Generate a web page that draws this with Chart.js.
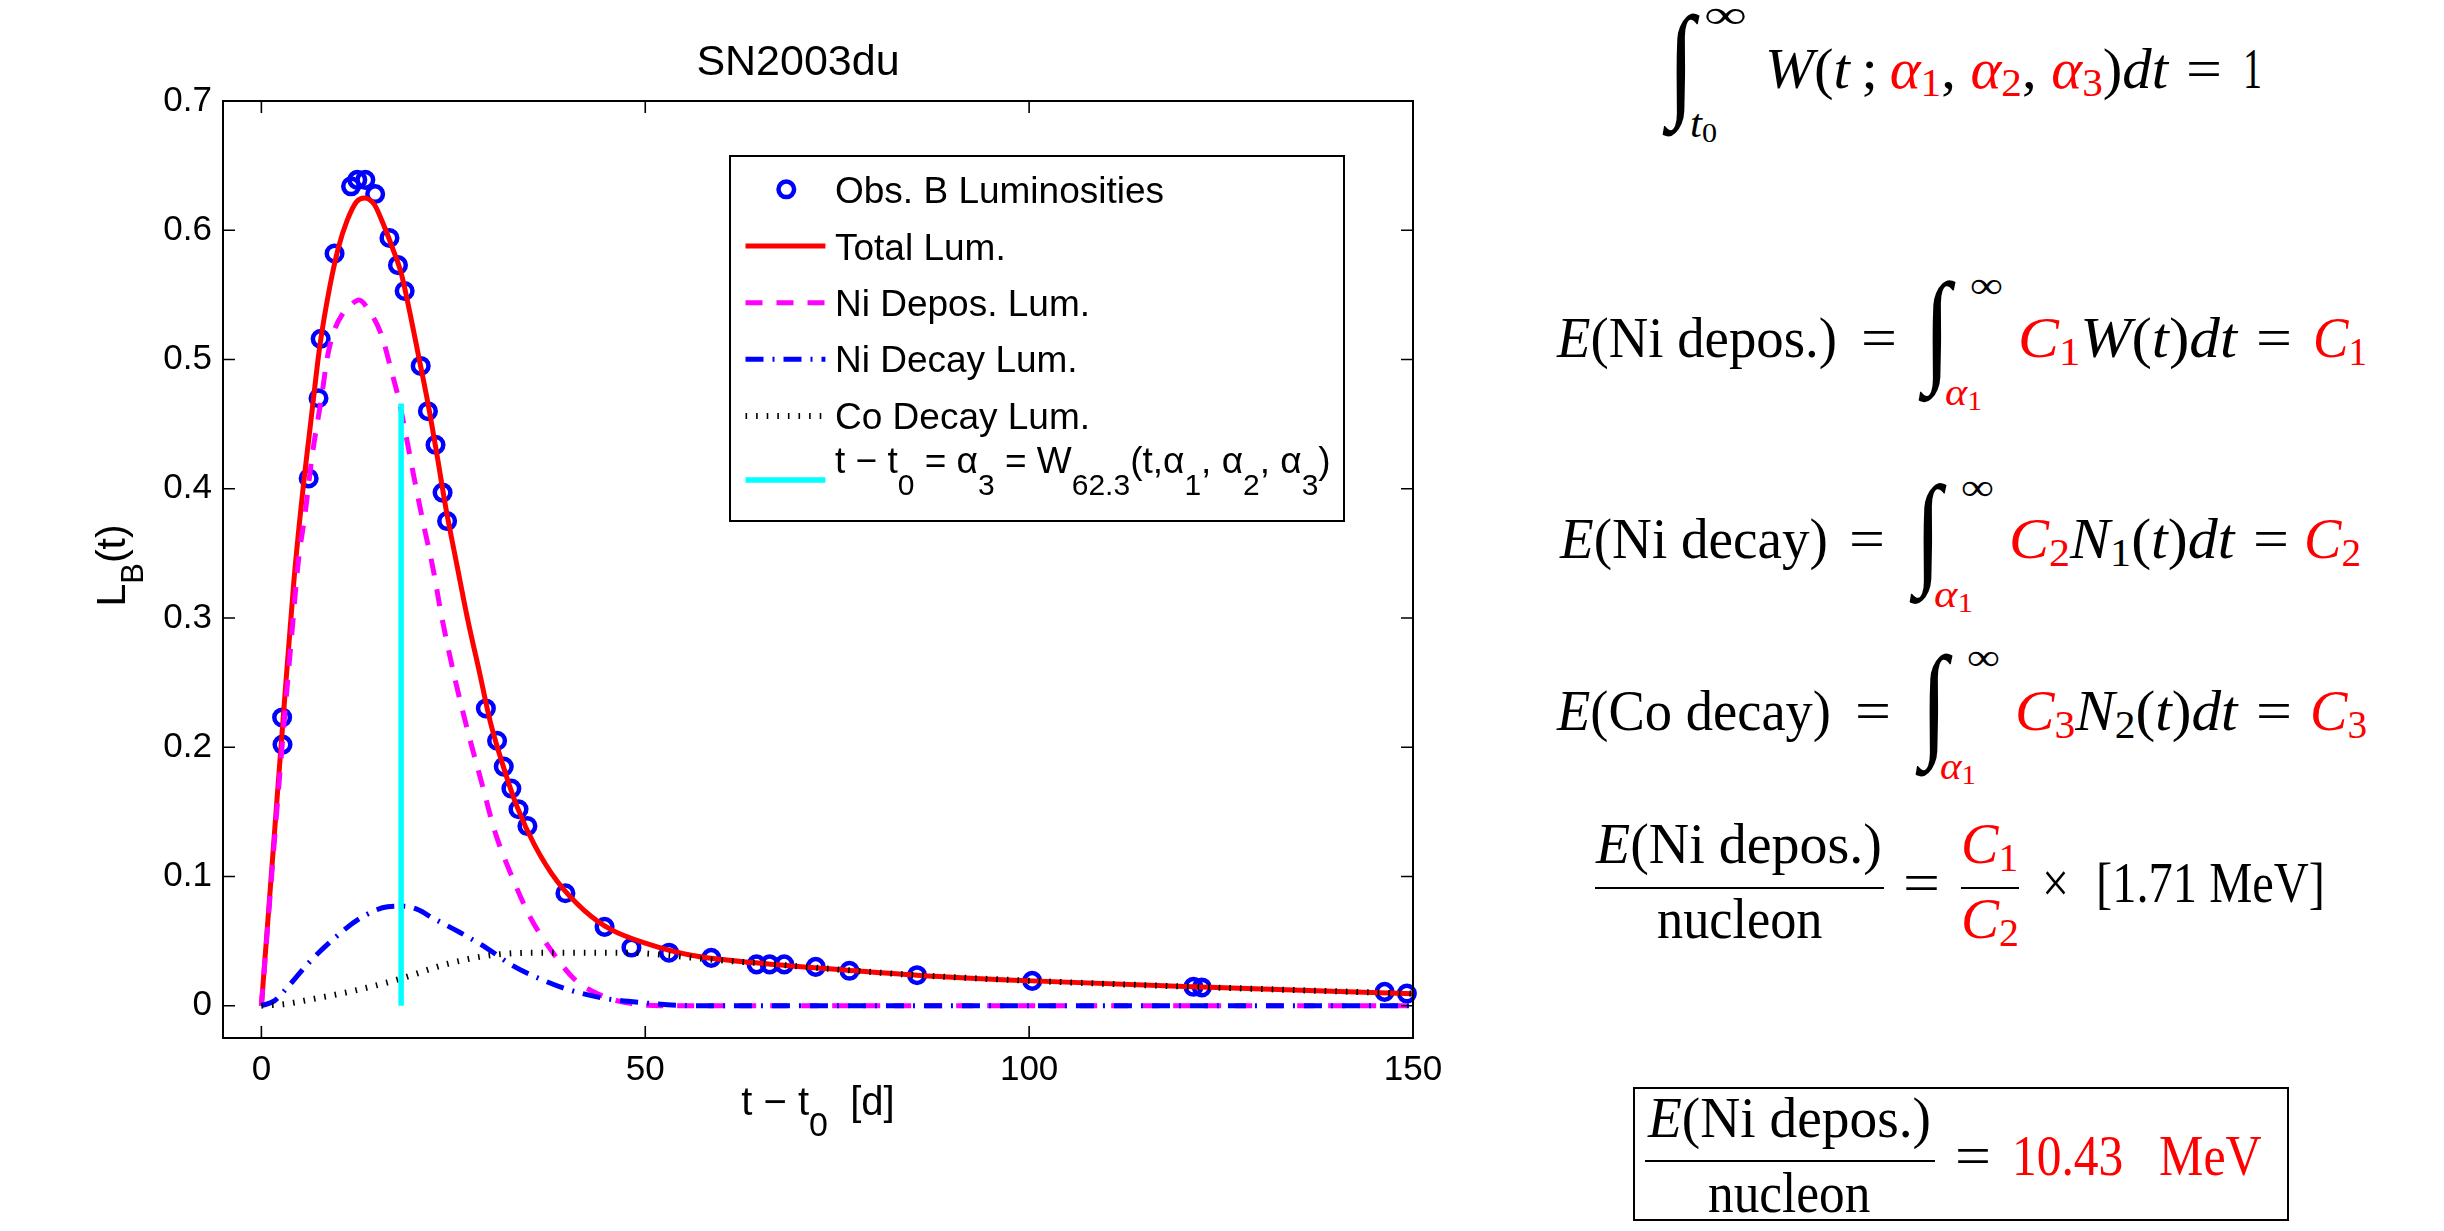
<!DOCTYPE html>
<html>
<head>
<meta charset="utf-8">
<script src="https://cdn.jsdelivr.net/npm/chart.js@4.4.0/dist/chart.umd.min.js"></script>
<style>
html, body { margin: 0; padding: 0; background: #fff; }
body { width: 2444px; height: 1231px; position: relative; overflow: hidden; }
#plot { position: absolute; left: 0; top: 0; width: 1500px; height: 1231px; }
.eq { position: absolute; left: 0; top: 0; white-space: nowrap; color: #000;
      font-family: "Liberation Serif", "Times New Roman", serif; transform-origin: 0 0; }
.eq i { font-style: italic; }
.r { color: #f00; }
.sb { position: relative; top: 0.2em; font-size: 0.7em; line-height: 0; }
.bar { position: absolute; background: #000; height: 2.5px; }
.box { position: absolute; border: 2px solid #000; box-sizing: border-box; }
</style>
</head>
<body>
<div id="plot"><canvas id="lum"></canvas></div>
<div id="eqs"></div>
<script>
// observed B luminosities (t - t0 in days, L_B)
const obsT = [2.7, 2.75, 6.16, 7.44, 7.72, 9.53, 11.68, 12.49, 13.54, 14.82, 16.68, 17.79, 18.66, 20.75,
              21.69, 22.68, 23.6, 24.19, 29.24, 30.7, 31.57, 32.56, 33.49, 34.65, 39.6, 44.7, 48.2, 53.1,
              58.6, 64.5, 66.2, 68.1, 72.2, 76.6, 85.4, 100.4, 121.4, 122.5, 146.3, 149.2];
const obsL = [0.223, 0.202, 0.408, 0.470, 0.516, 0.582, 0.634, 0.639, 0.639, 0.628, 0.594, 0.573, 0.553, 0.495,
              0.460, 0.434, 0.397, 0.375, 0.230, 0.205, 0.185, 0.168, 0.152, 0.139, 0.087, 0.061, 0.045, 0.041,
              0.037, 0.032, 0.032, 0.032, 0.030, 0.027, 0.0236, 0.0192, 0.0146, 0.0141, 0.0107, 0.0094];

// total luminosity
const totT = [0, 1, 2, 3, 4.24, 5.3, 6.56, 7.6, 8.9, 10.05, 11.2, 12.38, 13.43, 14.7, 15.86, 17.03, 18.2,
              19.35, 20.5, 21.7, 22.85, 24.0, 25.5, 26.9, 28.37, 29.8, 31.57, 33.3, 35.6, 38.55, 42.0, 45.5,
              50.2, 56.0, 64.7, 76.3, 85.4, 100.4, 121.4, 150];
const totL = [0, 0.078, 0.157, 0.235, 0.329, 0.393, 0.458, 0.51, 0.556, 0.587, 0.608, 0.622, 0.625, 0.62,
              0.605, 0.587, 0.567, 0.536, 0.502, 0.466, 0.427, 0.386, 0.34, 0.298, 0.259, 0.22, 0.184, 0.154,
              0.124, 0.096, 0.074, 0.059, 0.048, 0.039, 0.033, 0.0275, 0.0236, 0.0192, 0.0146, 0.0093];

// Ni deposition luminosity
const depT = [0, 1, 2, 3, 4, 4.8, 5.7, 6.6, 7.84, 8.6, 9.47, 10.64, 11.8, 12.7, 14.0, 15.58, 17.03, 17.9,
              18.78, 19.94, 21.1, 22.4, 23.42, 25.17, 26.9, 28.67, 30.4, 32.7, 35.06, 37.97, 40.87, 44.4,
              47.85, 52, 150];
const depL = [0, 0.075, 0.15, 0.222, 0.29, 0.343, 0.381, 0.425, 0.471, 0.502, 0.522, 0.536, 0.543, 0.546,
              0.538, 0.520, 0.489, 0.469, 0.443, 0.407, 0.373, 0.337, 0.303, 0.254, 0.212, 0.173, 0.135,
              0.099, 0.068, 0.041, 0.020, 0.0076, 0.002, 0, 0];

// Ni decay luminosity
const niT = [0, 1.63, 3.66, 5.98, 9.47, 12.96, 16.45, 18.5, 20.5, 22.26, 25.75, 29.24, 32.73, 36.2, 39.7,
             44.4, 50.2, 56, 150];
const niL = [0, 0.0035, 0.016, 0.032, 0.052, 0.068, 0.0765, 0.077, 0.074, 0.068, 0.057, 0.045, 0.031,
             0.021, 0.013, 0.006, 0.002, 0, 0];

// Co decay luminosity
const coT = [0, 3, 6.56, 12.4, 18.2, 24.0, 29.8, 35.6, 41.45, 47.3, 53.1, 58, 64.7, 76.3, 85.4, 100.4,
             121.4, 150];
const coL = [0, 0.0012, 0.005, 0.012, 0.021, 0.032, 0.039, 0.041, 0.041, 0.041, 0.039, 0.036, 0.033,
             0.0275, 0.0236, 0.0192, 0.0146, 0.0093];

// t - t0 = alpha3 marker line
const alphaT = [18.2, 18.2];
const alphaL = [0, 0.466];

// axes
const xTicks = [0, 50, 100, 150];
const xTickLabels = ['0', '50', '100', '150'];
const yTicks = [0, 0.1, 0.2, 0.3, 0.4, 0.5, 0.6, 0.7];
const yTickLabels = ['0', '0.1', '0.2', '0.3', '0.4', '0.5', '0.6', '0.7'];

const SANS = '"Liberation Sans", Arial, sans-serif';
Chart.defaults.font.family = SANS;
Chart.defaults.color = '#000';

const pts = (xs, ys) => xs.map((x, i) => ({ x: x, y: ys[i] }));

// line styles, shared with the legend
const st = {
    obs:   { color: '#0000ff' },
    total: { color: '#ff0000', width: 5, dash: [] },
    dep:   { color: '#ff00ff', width: 5, dash: [17, 14] },
    ni:    { color: '#0000ff', width: 5, dash: [18, 9, 2, 9] },
    co:    { color: '#000000', width: 6, dash: [1.6, 9] },
    alpha: { color: '#00ffff', width: 5.5, dash: [] }
};

function lineSet(data, s) {
    return {
        data: data, borderColor: s.color, borderWidth: s.width, borderDash: s.dash,
        pointRadius: 0, cubicInterpolationMode: 'monotone', fill: false
    };
}

// draw mixed text with subscripts: runs = [text, size, dy]
function drawRuns(ctx, x, y, runs) {
    let cx = x;
    runs.forEach(r => {
        ctx.font = r[1] + 'px ' + SANS;
        ctx.fillText(r[0], cx, y + r[2]);
        cx += ctx.measureText(r[0]).width;
    });
    return cx - x;
}
function runsWidth(ctx, runs) {
    let w = 0;
    runs.forEach(r => { ctx.font = r[1] + 'px ' + SANS; w += ctx.measureText(r[0]).width; });
    return w;
}

const framePlugin = {
    id: 'frame',
    afterDatasetsDraw(chart) {
        const ctx = chart.ctx, a = chart.chartArea;
        const xs = chart.scales.x, ys = chart.scales.y;
        ctx.save();
        ctx.strokeStyle = '#000';
        ctx.lineWidth = 1.6;
        ctx.beginPath();
        xTicks.forEach(v => {
            const px = xs.getPixelForValue(v);
            ctx.moveTo(px, a.bottom); ctx.lineTo(px, a.bottom - 12);
            ctx.moveTo(px, a.top); ctx.lineTo(px, a.top + 12);
        });
        yTicks.forEach(v => {
            const py = ys.getPixelForValue(v);
            ctx.moveTo(a.left, py); ctx.lineTo(a.left + 12, py);
            ctx.moveTo(a.right, py); ctx.lineTo(a.right - 12, py);
        });
        ctx.stroke();
        ctx.lineWidth = 2;
        ctx.strokeRect(a.left, a.top, a.right - a.left, a.bottom - a.top);
        ctx.restore();
    },
    afterDraw(chart) {
        const ctx = chart.ctx, a = chart.chartArea;
        ctx.save();
        ctx.fillStyle = '#000';

        // title
        ctx.font = '43px ' + SANS;
        ctx.textAlign = 'center';
        ctx.textBaseline = 'middle';
        ctx.fillText('SN2003du', 798, 62.8);

        ctx.textBaseline = 'alphabetic';
        ctx.textAlign = 'left';

        // x axis title
        const xr = [['t \u2212 t', 40, 0], ['0', 34, 21], ['  [d]', 40, 0]];
        drawRuns(ctx, (a.left + a.right) / 2 - runsWidth(ctx, xr) / 2, 1115, xr);

        // y axis title
        const yr = [['L', 41, 0], ['B', 31, 18], ['(t)', 41, 0]];
        ctx.save();
        ctx.translate(125, (a.top + a.bottom) / 2 - 4);
        ctx.rotate(-Math.PI / 2);
        drawRuns(ctx, -runsWidth(ctx, yr) / 2, 0, yr);
        ctx.restore();

        // legend
        const lx = a.left + 507, ly = a.top + 55, lw = 614, lh = 365;
        ctx.fillStyle = '#fff';
        ctx.fillRect(lx, ly, lw, lh);
        ctx.strokeStyle = '#000';
        ctx.lineWidth = 2;
        ctx.strokeRect(lx, ly, lw, lh);

        const rows = [
            { s: st.obs, marker: true, y: 33.3, base: 46.7, runs: [['Obs. B Luminosities', 37, 0]] },
            { s: st.total, y: 90, base: 104, runs: [['Total Lum.', 37, 0]] },
            { s: st.dep, y: 146.7, base: 160, runs: [['Ni Depos. Lum.', 37, 0]] },
            { s: st.ni, y: 203.3, base: 216.3, runs: [['Ni Decay Lum.', 37, 0]] },
            { s: st.co, y: 260, base: 273.3, runs: [['Co Decay Lum.', 37, 0]] },
            { s: st.alpha, y: 324, base: 317.3, runs: [
                ['t \u2212 t', 37, 0], ['0', 30, 21.7], [' = \u03b1', 37, 0], ['3', 30, 21.7],
                [' = W', 37, 0], ['62.3', 30, 21.7], ['(t,\u03b1', 37, 0], ['1', 30, 21.7],
                [', \u03b1', 37, 0], ['2', 30, 21.7], [', \u03b1', 37, 0], ['3', 30, 21.7], [')', 37, 0]] }
        ];
        rows.forEach(r => {
            if (r.marker) {
                ctx.beginPath();
                ctx.setLineDash([]);
                ctx.strokeStyle = r.s.color;
                ctx.lineWidth = 4.5;
                ctx.arc(lx + 56.3, ly + r.y, 7.8, 0, Math.PI * 2);
                ctx.stroke();
            } else {
                ctx.beginPath();
                ctx.setLineDash(r.s.dash);
                ctx.strokeStyle = r.s.color;
                ctx.lineWidth = r.s.width;
                ctx.moveTo(lx + 15.5, ly + r.y);
                ctx.lineTo(lx + 95.4, ly + r.y);
                ctx.stroke();
            }
            ctx.setLineDash([]);
            ctx.fillStyle = '#000';
            drawRuns(ctx, lx + 105, ly + r.base, r.runs);
        });
        ctx.restore();
    }
};

new Chart(document.getElementById('lum'), {
    type: 'line',
    data: {
        datasets: [
            lineSet(pts(alphaT, alphaL), st.alpha),
            lineSet(pts(coT, coL), st.co),
            lineSet(pts(niT, niL), st.ni),
            lineSet(pts(depT, depL), st.dep),
            lineSet(pts(totT, totL), st.total),
            {
                data: pts(obsT, obsL), showLine: false, clip: false,
                pointRadius: 7.8, pointBorderWidth: 4.5, pointStyle: 'circle',
                pointBorderColor: st.obs.color, pointBackgroundColor: 'rgba(0,0,0,0)',
                borderColor: st.obs.color
            }
        ]
    },
    options: {
        responsive: true,
        maintainAspectRatio: false,
        animation: false,
        events: [],
        layout: { padding: { left: 0, right: 87, top: 101, bottom: 0 } },
        plugins: {
            legend: { display: false },
            tooltip: { enabled: false },
            title: { display: false }
        },
        scales: {
            x: {
                type: 'linear', min: -5, max: 150,
                grid: { display: false, drawTicks: false },
                border: { display: false },
                afterBuildTicks: s => { s.ticks = xTicks.map(v => ({ value: v })); },
                afterFit: s => { s.height = 193; s.paddingLeft = 0; s.paddingRight = 0; },
                ticks: {
                    padding: 11, maxRotation: 0, autoSkip: false, color: '#000',
                    font: { family: SANS, size: 35 },
                    callback: (v, i) => xTickLabels[i]
                }
            },
            y: {
                type: 'linear', min: -0.025, max: 0.7,
                grid: { display: false, drawTicks: false },
                border: { display: false },
                afterBuildTicks: s => { s.ticks = yTicks.map(v => ({ value: v })); },
                afterFit: s => { s.width = 223; s.paddingTop = 0; s.paddingBottom = 0; },
                ticks: {
                    padding: 11, autoSkip: false, color: '#000',
                    font: { family: SANS, size: 35 },
                    callback: (v, i) => yTickLabels[i]
                }
            }
        }
    },
    plugins: [framePlugin]
});

// ---- equations on the right ----
const eqBox = document.getElementById('eqs');
const mc = document.createElement('canvas').getContext('2d');
const SERIF = '"Liberation Serif", "Times New Roman", serif';

function put(x, base, size, html, width) {
    const d = document.createElement('div');
    d.className = 'eq';
    d.innerHTML = html;
    mc.font = size + 'px ' + SERIF;
    const m = mc.measureText('Hg');
    const fa = m.fontBoundingBoxAscent, fd = m.fontBoundingBoxDescent;
    d.style.fontSize = size + 'px';
    d.style.lineHeight = size + 'px';
    d.style.left = x + 'px';
    d.style.top = (base - ((size - fa - fd) / 2 + fa)) + 'px';
    eqBox.appendChild(d);
    if (width) {
        const w = d.getBoundingClientRect().width;
        d.style.transform = 'scaleX(' + (width / w) + ')';
    }
}

function integral(x1, x2, y1, y2) {
    const fs = 100;
    mc.font = fs + 'px ' + SERIF;
    const m = mc.measureText('\u222b');
    const gh = m.actualBoundingBoxAscent + m.actualBoundingBoxDescent;
    const gw = m.actualBoundingBoxLeft + m.actualBoundingBoxRight;
    const baseIn = (fs - m.fontBoundingBoxAscent - m.fontBoundingBoxDescent) / 2 + m.fontBoundingBoxAscent;
    const gTop = baseIn - m.actualBoundingBoxAscent, gLeft = -m.actualBoundingBoxLeft;
    const d = document.createElement('div');
    d.className = 'eq';
    d.textContent = '\u222b';
    d.style.fontSize = fs + 'px';
    d.style.lineHeight = fs + 'px';
    d.style.transform = 'translate(' + x1 + 'px,' + y1 + 'px) scale(' + ((x2 - x1) / gw) + ',' +
        ((y2 - y1) / gh) + ') translate(' + (-gLeft) + 'px,' + (-gTop) + 'px)';
    eqBox.appendChild(d);
}

function bar(x, y, w) {
    const d = document.createElement('div');
    d.className = 'bar';
    d.style.left = x + 'px'; d.style.top = y + 'px'; d.style.width = w + 'px';
    eqBox.appendChild(d);
}

const sub = s => '<span class="sb">' + s + '</span>';
const red = s => '<span class="r">' + s + '</span>';
const al = n => red('<i>\u03b1</i>' + sub(n));
const C = n => red('<i>C</i>' + sub(n));

// normalisation
integral(1662, 1700, 13, 137);
put(1704, 28, 40, '\u221e', 43);
put(1690, 137, 40, '<i>t</i>' + sub('0'), 27);
put(1765, 88, 57, '<i>W</i>(<i>t</i>&#8201;;&#8201;' + al(1) + ', ' + al(2) + ', ' + al(3) + ')<i>dt</i>', 403);
put(2186, 88, 57, '=', 36);
put(2243, 88, 57, '1', 19);

// E(Ni depos.)
put(1557, 356.7, 57, '<i>E</i>(Ni depos.)', 280);
put(1861, 356.7, 57, '=', 36);
integral(1918, 1956, 280, 403);
put(1970, 298, 38, '\u221e', 33);
put(1945, 405, 38, al(1), 37);
put(2018, 356.7, 57, C(1) + '<i>W</i>(<i>t</i>)<i>dt</i>', 219);
put(2256, 356.7, 57, '=', 36);
put(2313, 356.7, 57, C(1), 54);

// E(Ni decay)
put(1560, 558.3, 57, '<i>E</i>(Ni decay)', 268);
put(1849, 558.3, 57, '=', 36);
integral(1909, 1947, 483, 605);
put(1960.5, 500, 38, '\u221e', 33);
put(1933.5, 607, 38, al(1), 39);
put(2009, 558.3, 57, C(2) + '<i>N</i>' + sub(1) + '(<i>t</i>)<i>dt</i>', 225.5);
put(2252.6, 558.3, 57, '=', 36);
put(2303.7, 558.3, 57, C(2), 57);

// E(Co decay)
put(1557, 730, 57, '<i>E</i>(Co decay)', 274);
put(1855, 730, 57, '=', 36);
integral(1915, 1953, 653, 777);
put(1966.6, 670, 38, '\u221e', 33);
put(1939.5, 779, 38, al(1), 36);
put(2015, 730, 57, C(3) + '<i>N</i>' + sub(2) + '(<i>t</i>)<i>dt</i>', 222.5);
put(2255.6, 730, 57, '=', 36);
put(2309.7, 730, 57, C(3), 57);

// energy per nucleon
put(1596, 863.3, 57, '<i>E</i>(Ni depos.)', 286);
bar(1595, 886.5, 289);
put(1656.5, 938.3, 57, 'nucleon', 165.5);
put(1903, 901.7, 57, '=', 37);
put(1960.6, 863.3, 57, C(1), 57);
bar(1960.6, 886.5, 58.4);
put(1960.6, 938.3, 57, C(2), 58);
put(2041.8, 901.7, 57, '\u00d7', 27);
put(2096, 901.7, 57, '[1.71 MeV]', 229);

// boxed result
const bx = document.createElement('div');
bx.className = 'box';
bx.style.left = '1632.5px'; bx.style.top = '1086.7px';
bx.style.width = '656.5px'; bx.style.height = '134px';
eqBox.appendChild(bx);
put(1647.5, 1136.7, 57, '<i>E</i>(Ni depos.)', 283);
bar(1644.5, 1159.5, 290);
put(1707.7, 1211.7, 57, 'nucleon', 162.3);
put(1954.5, 1175, 57, '=', 36);
put(2011.7, 1175, 57, red('10.43'), 111.3);
put(2159, 1175, 57, red('MeV'), 102.6);
</script>
</body>
</html>
